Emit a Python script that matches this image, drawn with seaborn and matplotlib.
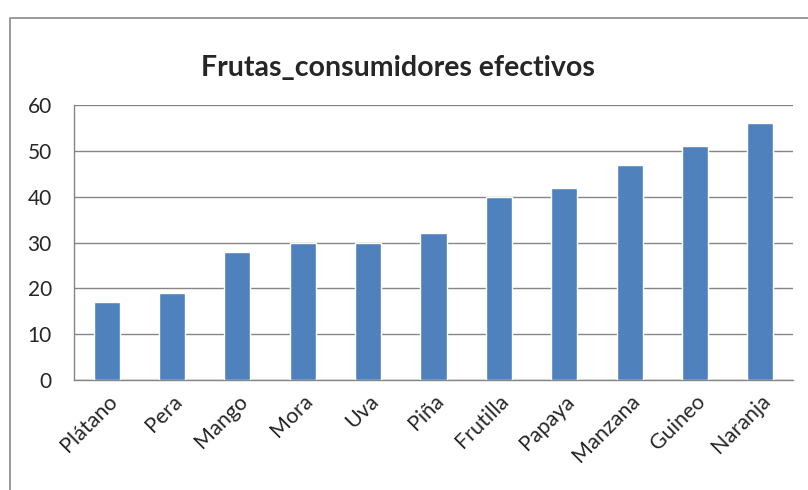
import matplotlib.pyplot as plt
import seaborn as sns
import pandas as pd
from matplotlib.lines import Line2D

# Data
frutas = ["Plátano", "Pera", "Mango", "Mora", "Uva", "Piña",
          "Frutilla", "Papaya", "Manzana", "Guineo", "Naranja"]
consumidores = [17, 19, 28, 30, 30, 32, 40, 42, 47, 51, 56]
y_ticks = [0, 10, 20, 30, 40, 50, 60]

df = pd.DataFrame({"fruta": frutas, "consumidores": consumidores})

sns.set_style("white")
plt.rcParams["font.family"] = ["Lato", "DejaVu Sans"]

fig = plt.figure(figsize=(8.08, 4.9), dpi=100)
ax = fig.add_axes([74 / 808, 1 - 380 / 490, 719 / 808, 275 / 490])

sns.barplot(data=df, x="fruta", y="consumidores", order=frutas,
            color="#4F81BD", saturation=1, width=0.4, ax=ax, zorder=3)

ax.set_ylim(0, 60)
ax.set_yticks(y_ticks)
ax.set_xlim(-0.5, len(frutas) - 0.5)
ax.yaxis.grid(True, color="#868686", linewidth=1, zorder=0)
ax.set_axisbelow(True)

for side in ["top", "right"]:
    ax.spines[side].set_visible(False)
for side in ["left", "bottom"]:
    ax.spines[side].set_color("#868686")
    ax.spines[side].set_linewidth(1)

ax.set_xlabel("")
ax.set_ylabel("")
ax.tick_params(axis="y", length=0, pad=16, labelsize=15)
ax.tick_params(axis="x", length=0, pad=8, labelsize=15.5)
plt.setp(ax.get_xticklabels(), rotation=45, ha="right",
         rotation_mode="anchor")

fig.text(398 / 808, 1 - 68 / 490, "Frutas_consumidores efectivos",
         ha="center", va="center", fontsize=20.5, fontweight="bold")

# outer chart border (extends past the right and bottom edges)
border_x = [10 / 808, 10 / 808, 1.2]
border_y = [-0.2, 1 - 18 / 490, 1 - 18 / 490]
fig.add_artist(Line2D(border_x, border_y, color="#878787", linewidth=1.2))

fig.savefig("out.png", dpi=100)
